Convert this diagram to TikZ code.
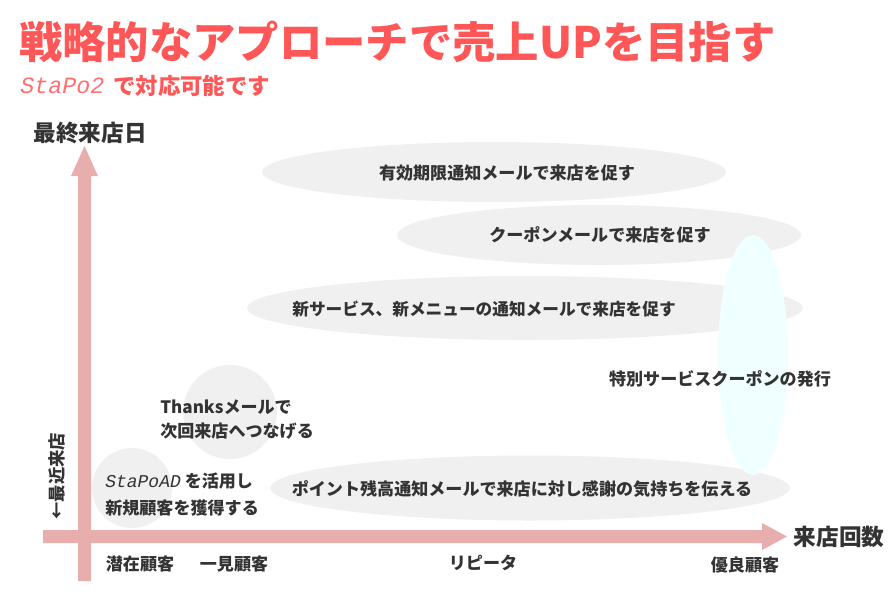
\documentclass[tikz,border=0pt]{standalone}
\usepackage{fontspec}
\setmainfont{Noto Sans CJK JP}
\newfontfamily\monoit{Liberation Mono}
\usetikzlibrary{shapes.geometric}
\definecolor{titlered}{HTML}{FF5757}
\definecolor{ink}{HTML}{333333}
\definecolor{blobgray}{HTML}{F0F0F0}
\definecolor{blobcyan}{HTML}{F0FFFF}
\definecolor{axispink}{HTML}{E8AEAE}
\tikzset{
  blob/.style 2 args={ellipse, fill=blobgray, draw=none, inner sep=0pt,
    minimum width=#1*0.75pt, minimum height=#2*0.75pt},
  lbl/.style={font=\bfseries\fontsize{12.8}{16}\selectfont, text=ink, inner sep=0pt},
  axlbl/.style={font=\bfseries\fontsize{17}{20}\selectfont, text=ink, inner sep=0pt},
  axisfill/.style={fill=axispink, draw=none},
}
\begin{document}
\begin{tikzpicture}[x=0.75pt,y=-0.75pt]
\useasboundingbox (0,0) rectangle (895,600);
% title
\node[anchor=west, inner sep=0pt, text=titlered, font=\bfseries\fontsize{32.5}{36}\selectfont] (title) at (19,42) {戦略的なアプローチで売上UPを目指す};
\node[anchor=west, inner sep=0pt, text=titlered!85, font=\monoit\itshape\fontsize{17.5}{20}\selectfont] (sub1) at (20,86) {StaPo2};
\node[anchor=west, inner sep=0pt, text=titlered, font=\bfseries\fontsize{16.8}{20}\selectfont] (sub2) at (113,86) {で対応可能です};
% blobs
\node[blob={464}{60}] (e1) at (494,172) {};
\node[blob={404}{60}] (e2) at (599,235) {};
\node[blob={556}{64}] (e3) at (525,308) {};
\node[blob={520}{65}] (e5) at (530,488) {};
\node[blob={70}{240}, fill=blobcyan] (e4) at (753,355) {};
\node[blob={80}{80}] (c1) at (132,488) {};
\node[blob={94}{94}] (c2) at (230,412) {};
% axes
\coordinate (vb) at (84.5,581);
\coordinate (vt) at (84.5,146);
\coordinate (hl) at (43,536.5);
\coordinate (hr) at (787,536.5);
\fill[axisfill] (78,581) -- (78,176) -- (71,176) -- (vt) -- (98,176) -- (91,176) -- (91,581) -- cycle;
\fill[axisfill] (43,530) -- (762,530) -- (762,523) -- (hr) -- (762,550) -- (762,543) -- (43,543) -- cycle;
% axis labels
\node[axlbl] (ylab) at (90,133) {最終来店日};
\node[axlbl] (xlab) at (839,537) {来店回数};
\node[lbl, rotate=90, font=\bfseries\fontsize{13}{15}\selectfont] (recent) at (57,476) {←最近来店};
% texts
\node[lbl] (t1) at (507,173) {有効期限通知メールで来店を促す};
\node[lbl] (t2) at (600,235) {クーポンメールで来店を促す};
\node[lbl, font=\bfseries\fontsize{12.5}{16}\selectfont] (t3) at (484,309) {新サービス、新メニューの通知メールで来店を促す};
\node[lbl] (t4) at (720,379) {特別サービスクーポンの発行};
\node[lbl] (t5) at (522,489) {ポイント残高通知メールで来店に対し感謝の気持ちを伝える};
\node[lbl, anchor=west] (th1) at (160,407) {Thanksメールで};
\node[lbl, anchor=west] (th2) at (160,431) {次回来店へつなげる};
\node[lbl, anchor=west] (sa1) at (105,481) {{\monoit\itshape\mdseries\fontsize{13.5}{16}\selectfont StaPoAD} を活用し};
\node[lbl, anchor=west] (sa2) at (105,508) {新規顧客を獲得する};
% bottom labels
\node[lbl] (b1) at (140,564) {潜在顧客};
\node[lbl] (b2) at (234,564) {一見顧客};
\node[lbl] (b3) at (483,563) {リピータ};
\node[lbl] (b4) at (745,565) {優良顧客};
\end{tikzpicture}
\end{document}
